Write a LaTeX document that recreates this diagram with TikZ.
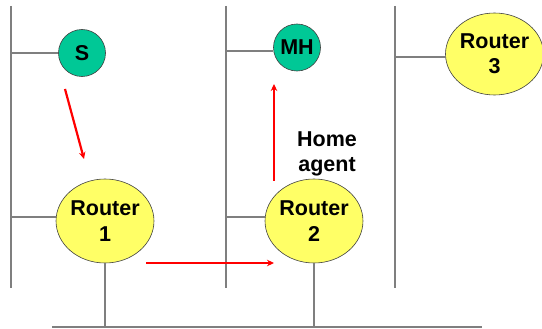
\documentclass[tikz,border=0pt]{standalone}
\usepackage{fontspec}
\setmainfont{Liberation Sans}
\usetikzlibrary{shapes.geometric,arrows.meta}
\definecolor{hostgreen}{HTML}{00C896}
\definecolor{routeryellow}{HTML}{FFFF66}
\definecolor{wire}{HTML}{7F7F7F}
\tikzset{
  wireline/.style={draw=wire, line width=1.3pt},
  hostnode/.style={circle, draw=black!75, line width=0.6pt, fill=hostgreen, inner sep=0pt, minimum size=47pt, font=\fontsize{21.5}{25}\selectfont\bfseries},
  routernode/.style={ellipse, draw=black!75, line width=0.6pt, fill=routeryellow, inner sep=0pt, minimum width=94pt, minimum height=84pt, align=center, font=\fontsize{21.5}{25.3}\selectfont\bfseries},
  flow/.style={draw=red, line width=2.2pt, -{Stealth[length=7pt,width=6.5pt]}},
  lbl/.style={inner sep=0pt, align=center, font=\fontsize{21.5}{25.3}\selectfont\bfseries}
}
\begin{document}
\begin{tikzpicture}[x=1pt,y=-1pt]
\useasboundingbox (0,0) rectangle (542,329);
% coordinates of wires
\coordinate (l1t) at (11,6);   \coordinate (l1b) at (11,288);
\coordinate (l2t) at (226,6);  \coordinate (l2b) at (226,288);
\coordinate (l3t) at (395,6);  \coordinate (l3b) at (395,288);
\coordinate (bl) at (52,327);  \coordinate (br) at (482,327);
% nodes
\node[hostnode] (S) at (82,53) {S};
\node[hostnode] (MH) at (297,47.5) {MH};
\node[routernode] (R1) at (105,221) {Router\\1};
\node[routernode] (R2) at (314,221) {Router\\2};
\node[routernode, minimum width=91pt, minimum height=82pt] (R3) at (494.5,54) {Router\\3};
\node[lbl] (HA) at (327,154) {Home\\agent};
% wires
\draw[wireline] (l1t) -- (l1b);
\draw[wireline] (l2t) -- (l2b);
\draw[wireline] (l3t) -- (l3b);
\draw[wireline] (bl) -- (br);
\coordinate (s1) at (11,53);
\coordinate (m1) at (226,51);
\coordinate (r3a) at (395,57);
\coordinate (r1a) at (11,217);
\coordinate (r2a) at (226,217);
\draw[wireline] (s1) -- (S.west);
\draw[wireline] (m1) -- (m1 -| MH.west);
\draw[wireline] (r3a) -- (r3a -| R3.west);
\draw[wireline] (r1a) -- (r1a -| R1.west);
\draw[wireline] (r2a) -- (r2a -| R2.west);
\draw[wireline] (R1.south) -- (R1.south |- bl);
\draw[wireline] (R2.south) -- (R2.south |- bl);
% red arrows
\coordinate (a1s) at (65,89);  \coordinate (a1e) at (84,159);
\coordinate (a2s) at (146,263); \coordinate (a2e) at (274,263);
\coordinate (a3s) at (274,181); \coordinate (a3e) at (274,84);
\draw[flow] (a1s) -- (a1e);
\draw[flow] (a2s) -- (a2e);
\draw[flow] (a3s) -- (a3e);
\end{tikzpicture}
\end{document}
